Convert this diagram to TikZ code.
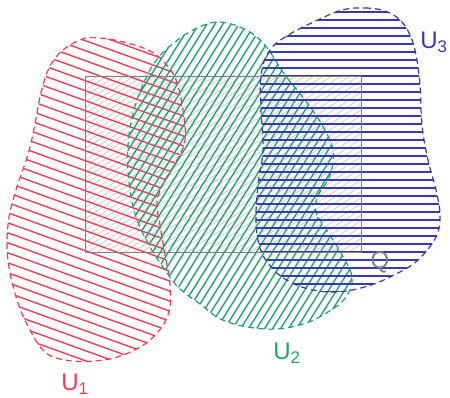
\documentclass[tikz,border=0pt]{standalone}
\usepackage{fontspec}
\setsansfont{Liberation Sans}
\definecolor{redU}{RGB}{240,58,82}
\definecolor{greenU}{RGB}{34,160,112}
\definecolor{blueU}{RGB}{58,58,165}
\definecolor{rectQ}{RGB}{128,128,128}
\definecolor{hatchQ}{RGB}{205,200,208}
\tikzset{
  hatchline/.style={line width=1.35pt, line cap=round},
  outline/.style={line width=1.2pt, dash pattern=on 6pt off 4pt},
  lbl/.style={font=\sffamily\fontsize{24}{25}\selectfont, inner sep=0pt}
}
\begin{document}
\begin{tikzpicture}[x=1pt,y=-1pt]
\useasboundingbox[fill=white] (0,0) rectangle (450,398);

% ---- Q rectangle hatch (light) ----
\begin{scope}
  \clip (85,76) rectangle (361,252);
  \foreach \c in {-320,-311,...,370} \draw[hatchQ, line width=0.7pt] (\c,260) -- (\c+400,0);
\end{scope}

% ---- U1 red ----
\begin{scope}
  \clip plot[smooth cycle,tension=0.65] coordinates {(80,40) (100,38) (127,43) (150,51) (165,63) (176,80) (183,110) (185,140) (176,162) (164,182) (157,202) (160,225) (165,255) (170,285) (168,315) (150,340) (123,355) (95,361) (65,360) (45,352) (30,330) (17,300) (8,260) (8,225) (15,193) (30,147) (43,85) (57,56)};
  \foreach \c in {-40,-30,...,370} \draw[redU, hatchline] (0,\c) -- (450,\c+162);
\end{scope}
\draw[redU, outline] plot[smooth cycle,tension=0.65] coordinates {(80,40) (100,38) (127,43) (150,51) (165,63) (176,80) (183,110) (185,140) (176,162) (164,182) (157,202) (160,225) (165,255) (170,285) (168,315) (150,340) (123,355) (95,361) (65,360) (45,352) (30,330) (17,300) (8,260) (8,225) (15,193) (30,147) (43,85) (57,56)};

% ---- U2 green ----
\begin{scope}
  \clip plot[smooth cycle,tension=0.65] coordinates {(217,22) (240,27) (258,38) (270,52) (285,75) (305,100) (322,125) (333,150) (330,175) (318,196) (316,212) (328,232) (342,255) (352,277) (346,297) (328,312) (300,325) (265,329) (225,321) (200,304) (178,287) (163,267) (150,247) (136,217) (129,182) (128,145) (134,110) (145,80) (158,58) (175,42) (195,29)};
  \foreach \c in {-140,-132,...,370} \draw[greenU, hatchline] (\c,400) -- (\c+250,0);
\end{scope}
\draw[greenU, outline] plot[smooth cycle,tension=0.65] coordinates {(217,22) (240,27) (258,38) (270,52) (285,75) (305,100) (322,125) (333,150) (330,175) (318,196) (316,212) (328,232) (342,255) (352,277) (346,297) (328,312) (300,325) (265,329) (225,321) (200,304) (178,287) (163,267) (150,247) (136,217) (129,182) (128,145) (134,110) (145,80) (158,58) (175,42) (195,29)};

% ---- U3 blue ----
\begin{scope}
  \clip plot[smooth cycle,tension=0.65] coordinates {(342,10) (365,8) (385,11) (400,20) (410,35) (416,55) (420,85) (422,125) (428,160) (436,190) (440,215) (436,237) (418,260) (398,273) (368,286) (335,292) (305,288) (282,277) (268,263) (260,248) (256,222) (258,185) (263,150) (261,110) (261,75) (270,50) (290,34) (318,20)};
  \foreach \c in {12,20,...,295} \draw[blueU, hatchline] (250,\c) -- (445,\c);
\end{scope}
\draw[blueU, outline] plot[smooth cycle,tension=0.65] coordinates {(342,10) (365,8) (385,11) (400,20) (410,35) (416,55) (420,85) (422,125) (428,160) (436,190) (440,215) (436,237) (418,260) (398,273) (368,286) (335,292) (305,288) (282,277) (268,263) (260,248) (256,222) (258,185) (263,150) (261,110) (261,75) (270,50) (290,34) (318,20)};

% ---- Q rectangle ----
\node[draw=rectQ, line width=1.3pt, minimum width=276pt, minimum height=176pt, inner sep=0pt, anchor=north west] (Q) at (85,76) {};

% ---- labels ----
\node[lbl, text=redU] (l1) at (75,384) {U$_{\mathsf{1}}$};
\node[lbl, text=greenU] (l2) at (287,353) {U$_{\mathsf{2}}$};
\node[lbl, text=blueU] (l3) at (434,42) {U$_{\mathsf{3}}$};
\node[lbl, text=rectQ] (lq) at (380,262) {Q};
\end{tikzpicture}
\end{document}
